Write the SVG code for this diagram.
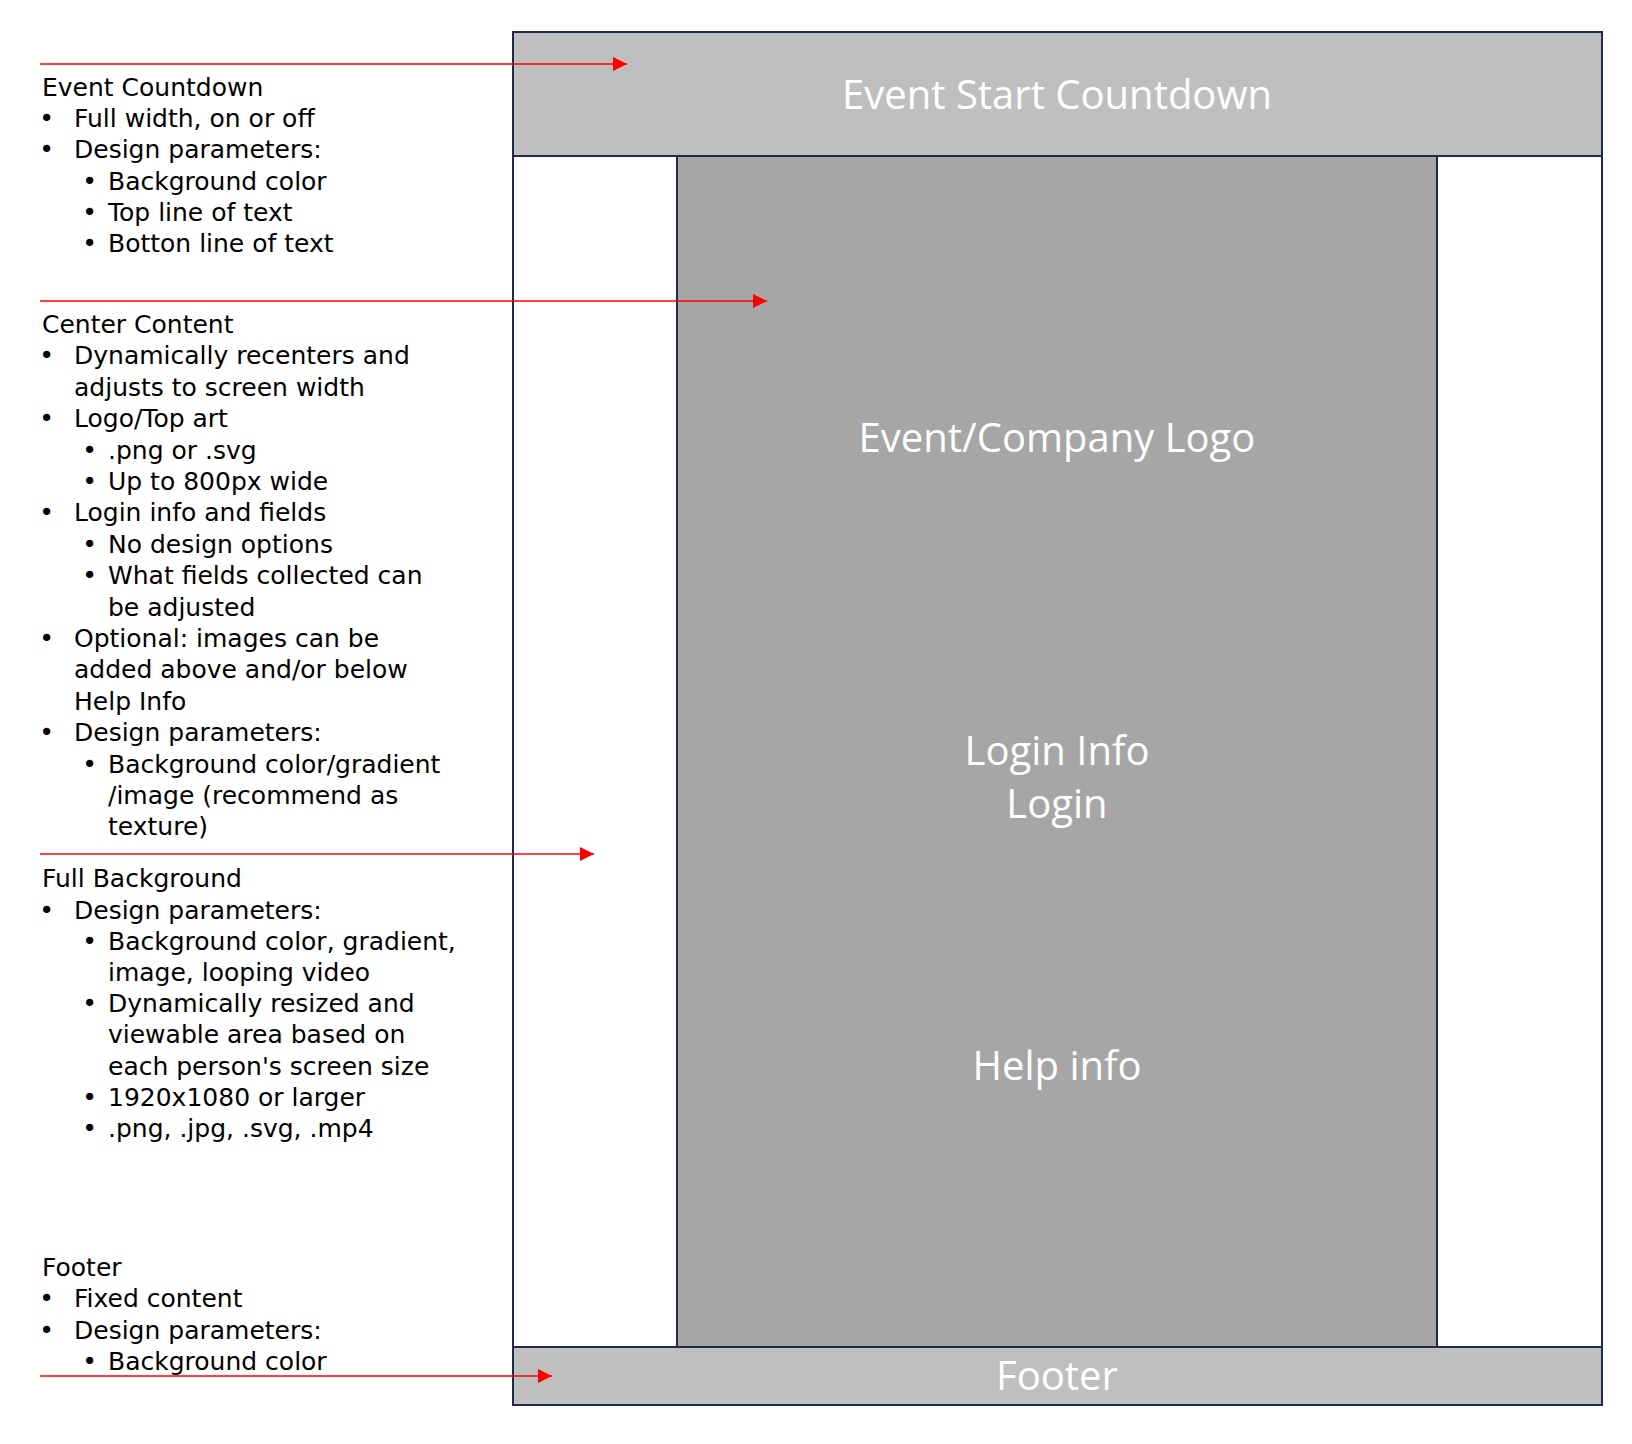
<svg xmlns="http://www.w3.org/2000/svg" width="1632" height="1444" viewBox="0 0 1632 1444">
<style>
.box{stroke:#1e2b4d;stroke-width:2}
.bg{fill:#ffffff}
.band{fill:#bfbfbf}
.col{fill:#a6a6a6}
.big{font-family:"Open Sans","Liberation Sans",sans-serif;font-size:40px;fill:#ffffff;text-anchor:middle}
.note{font-family:"DejaVu Sans","Liberation Sans",sans-serif;font-size:25px;fill:#000000}
.b{text-anchor:middle}
.conn{stroke:#ff0000;stroke-width:1.3;fill:none;marker-end:url(#ah)}
</style>
<defs>
<marker id="ah" markerWidth="14" markerHeight="14" refX="14" refY="7" orient="auto" markerUnits="userSpaceOnUse">
<path d="M0,0 L14,7 L0,14 z" fill="#ff0000"/>
</marker>
</defs>
<rect x="0" y="0" width="1632" height="1444" fill="#ffffff"/>

<g id="full-background">
<rect class="box bg" x="513" y="32" width="1089" height="1373"/>
</g>
<g id="center-content">
<rect class="box col" x="677" y="156" width="760" height="1191"/>
<text class="big" x="1057" y="451.5">Event/Company Logo</text>
<text class="big" x="1057" y="765">Login Info</text>
<text class="big" x="1057" y="818">Login</text>
<text class="big" x="1057" y="1080">Help info</text>
</g>
<g id="event-countdown">
<rect class="box band" x="513" y="32" width="1089" height="124"/>
<text class="big" x="1057" y="108.5">Event Start Countdown</text>
</g>
<g id="footer">
<rect class="box band" x="513" y="1347" width="1089" height="58"/>
<text class="big" x="1057" y="1390">Footer</text>
</g>

<g id="note-event-countdown" class="note">
<text x="42" y="95.7">Event Countdown</text>
<text class="b" x="46.5" y="127">•</text><text x="74" y="127">Full width, on or off</text>
<text class="b" x="46.5" y="158.3">•</text><text x="74" y="158.3">Design parameters:</text>
<text class="b" x="89.5" y="189.6">•</text><text x="108" y="189.6">Background color</text>
<text class="b" x="89.5" y="220.9">•</text><text x="108" y="220.9">Top line of text</text>
<text class="b" x="89.5" y="252.2">•</text><text x="108" y="252.2">Botton line of text</text>
</g>

<g id="note-center-content" class="note">
<text x="42" y="332.9">Center Content</text>
<text class="b" x="46.5" y="364.3">•</text><text x="74" y="364.3">Dynamically recenters and</text>
<text x="74" y="395.7">adjusts to screen width</text>
<text class="b" x="46.5" y="427.1">•</text><text x="74" y="427.1">Logo/Top art</text>
<text class="b" x="89.5" y="458.5">•</text><text x="108" y="458.5">.png or .svg</text>
<text class="b" x="89.5" y="489.9">•</text><text x="108" y="489.9">Up to 800px wide</text>
<text class="b" x="46.5" y="521.3">•</text><text x="74" y="521.3">Login info and fields</text>
<text class="b" x="89.5" y="552.7">•</text><text x="108" y="552.7">No design options</text>
<text class="b" x="89.5" y="584.1">•</text><text x="108" y="584.1">What fields collected can</text>
<text x="108" y="615.5">be adjusted</text>
<text class="b" x="46.5" y="646.9">•</text><text x="74" y="646.9">Optional: images can be</text>
<text x="74" y="678.3">added above and/or below</text>
<text x="74" y="709.7">Help Info</text>
<text class="b" x="46.5" y="741.1">•</text><text x="74" y="741.1">Design parameters:</text>
<text class="b" x="89.5" y="772.5">•</text><text x="108" y="772.5">Background color/gradient</text>
<text x="108" y="803.9">/image (recommend as</text>
<text x="108" y="835.3">texture)</text>
</g>

<g id="note-full-background" class="note">
<text x="42" y="887.3">Full Background</text>
<text class="b" x="46.5" y="918.5">•</text><text x="74" y="918.5">Design parameters:</text>
<text class="b" x="89.5" y="949.7">•</text><text x="108" y="949.7">Background color, gradient,</text>
<text x="108" y="980.9">image, looping video</text>
<text class="b" x="89.5" y="1012.1">•</text><text x="108" y="1012.1">Dynamically resized and</text>
<text x="108" y="1043.3">viewable area based on</text>
<text x="108" y="1074.5">each person's screen size</text>
<text class="b" x="89.5" y="1105.7">•</text><text x="108" y="1105.7">1920x1080 or larger</text>
<text class="b" x="89.5" y="1136.9">•</text><text x="108" y="1136.9">.png, .jpg, .svg, .mp4</text>
</g>

<g id="note-footer" class="note">
<text x="42" y="1276">Footer</text>
<text class="b" x="46.5" y="1307.3">•</text><text x="74" y="1307.3">Fixed content</text>
<text class="b" x="46.5" y="1338.6">•</text><text x="74" y="1338.6">Design parameters:</text>
<text class="b" x="89.5" y="1369.9">•</text><text x="108" y="1369.9">Background color</text>
</g>

<g id="connectors">
<line class="conn" x1="40" y1="64" x2="627" y2="64"/>
<line class="conn" x1="40" y1="301" x2="767" y2="301"/>
<line class="conn" x1="40" y1="854" x2="594" y2="854"/>
<line class="conn" x1="40" y1="1376" x2="552" y2="1376"/>
</g>
</svg>
